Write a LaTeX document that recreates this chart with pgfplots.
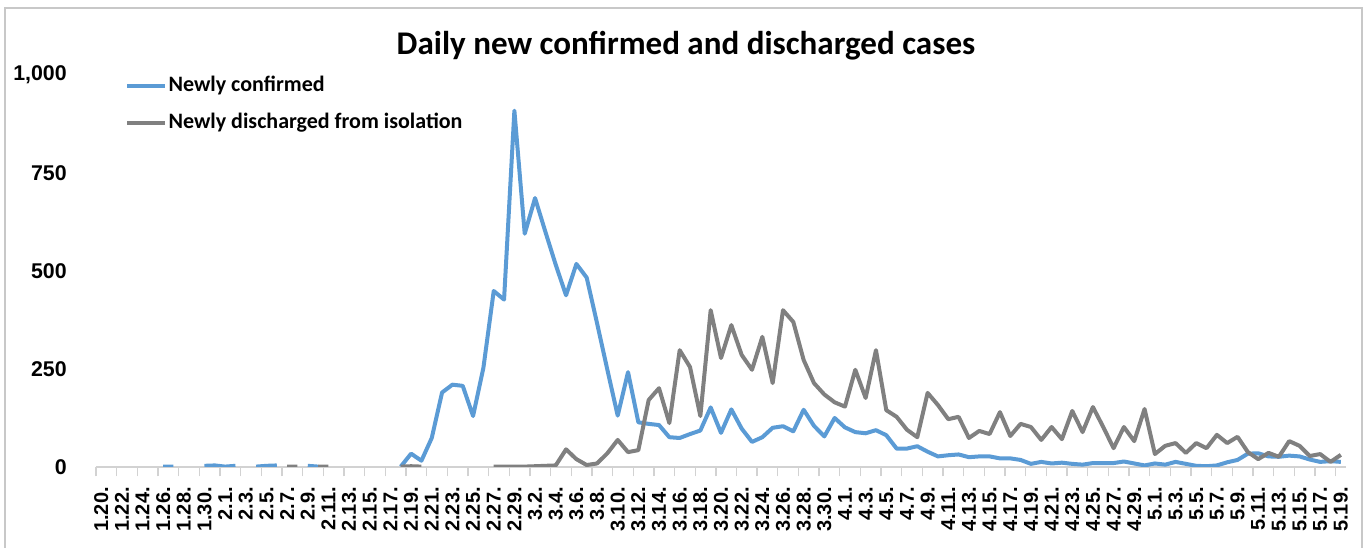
\documentclass[border=0pt]{standalone}
\usepackage{fontspec}
\setmainfont{Carlito}
\newfontfamily\arial{Liberation Sans}
\usepackage{pgfplots}
\usepackage{pgfplotstable}
\pgfplotsset{compat=1.18}

\definecolor{confblue}{RGB}{91,155,213}
\definecolor{disgray}{RGB}{128,128,128}
\definecolor{axisgray}{RGB}{210,210,210}
\definecolor{framegray}{RGB}{200,200,200}

% day index (0 = 1.20), newly confirmed, newly discharged; nan = no value
\pgfplotstableread{
i conf dis
0 1 nan
1 nan nan
2 nan nan
3 nan nan
4 1 nan
5 nan nan
6 1 nan
7 1 nan
8 nan nan
9 nan nan
10 3 nan
11 4 nan
12 1 nan
13 3 nan
14 nan nan
15 1 nan
16 3 nan
17 4 nan
18 nan 1
19 nan 1
20 3 nan
21 1 1
22 nan 1
23 nan nan
24 nan nan
25 nan nan
26 nan nan
27 2 nan
28 nan nan
29 1 1
30 34 2
31 16 1
32 74 nan
33 190 nan
34 210 nan
35 207 nan
36 130 nan
37 253 nan
38 449 1
39 427 1
40 909 1
41 595 1
42 686 2
43 600 3
44 516 4
45 438 45
46 518 20
47 483 5
48 367 9
49 248 35
50 131 69
51 242 38
52 114 43
53 110 171
54 107 201
55 76 112
56 74 298
57 84 255
58 93 130
59 152 400
60 87 278
61 147 362
62 98 286
63 64 248
64 76 332
65 100 214
66 104 400
67 91 370
68 146 273
69 105 214
70 78 185
71 125 165
72 101 154
73 89 248
74 86 176
75 94 298
76 81 145
77 47 128
78 47 95
79 53 76
80 39 189
81 27 158
82 30 122
83 32 128
84 25 74
85 27 92
86 27 84
87 22 140
88 22 79
89 18 110
90 8 102
91 13 69
92 9 102
93 11 71
94 8 143
95 6 89
96 10 153
97 10 102
98 10 48
99 14 102
100 9 66
101 4 148
102 9 33
103 6 54
104 13 61
105 8 36
106 3 61
107 2 48
108 4 82
109 12 61
110 18 77
111 34 38
112 35 20
113 27 36
114 26 26
115 29 66
116 27 54
117 19 28
118 13 33
119 15 13
120 13 31
}\daily

\begin{document}
\begin{tikzpicture}
\path[use as bounding box] (-72pt,-60.75pt) rectangle (954.75pt,350.25pt);
\draw[framegray, line width=1pt] (-68.25pt,-70pt) -- (-68.25pt,344.25pt) -- (949.5pt,344.25pt) -- (949.5pt,-70pt);

\begin{axis}[
    at={(0pt,0pt)}, anchor=south west,
    scale only axis, width=937.5pt, height=294pt,
    xmin=-0.5, xmax=120.5, ymin=0, ymax=1000,
    axis x line*=bottom, axis y line*=left,
    x axis line style={draw=axisgray, line width=1pt},
    y axis line style={draw=none},
    unbounded coords=jump,
    major tick length=0pt,
    minor tick length=7pt,
    tick align=outside,
    minor x tick style={axisgray, line width=1pt},
    ytick={0,250,500,750,1000},
    yticklabels={0,250,500,750,{1,000}},
    yticklabel style={font=\arial\bfseries\fontsize{16}{16}\selectfont, anchor=east, inner sep=0pt, xshift=-21.75pt},
    xtick={0,2,...,120},
    minor xtick={-0.5,1.5,...,119.5},
    xticklabels={1.20.,1.22.,1.24.,1.26.,1.28.,1.30.,
      2.1.,2.3.,2.5.,2.7.,2.9.,2.11.,2.13.,2.15.,2.17.,2.19.,2.21.,2.23.,2.25.,2.27.,2.29.,
      3.2.,3.4.,3.6.,3.8.,3.10.,3.12.,3.14.,3.16.,3.18.,3.20.,3.22.,3.24.,3.26.,3.28.,3.30.,
      4.1.,4.3.,4.5.,4.7.,4.9.,4.11.,4.13.,4.15.,4.17.,4.19.,4.21.,4.23.,4.25.,4.27.,4.29.,
      5.1.,5.3.,5.5.,5.7.,5.9.,5.11.,5.13.,5.15.,5.17.,5.19.},
    xticklabel style={font=\arial\bfseries\fontsize{15}{15}\selectfont, rotate=90, anchor=east, inner sep=0pt, xshift=-15pt},
    legend style={draw=none, fill=none, at={(0.0232,0.925)}, anchor=west, inner sep=0pt,
      row sep=13.75pt,
      nodes={inner sep=0pt, text height=11pt, text depth=3pt, font=\bfseries\fontsize{16.5}{16.5}\selectfont}},
    legend cell align=left,
    legend image code/.code={\draw[#1] (0pt,0pt) -- (28.5pt,0pt);},
    every axis plot/.append style={line width=3pt, line join=round},
]
\addplot[confblue] table[x=i, y=conf] {\daily};
\addlegendentry{\hspace{1pt}Newly confirmed}
\addplot[disgray] table[x=i, y=dis] {\daily};
\addlegendentry{\hspace{1pt}Newly discharged from isolation}
\end{axis}

\node[font=\bfseries\fontsize{24.8}{24.8}\selectfont] at (442.5pt,316pt) {Daily new confirmed and discharged cases};
\end{tikzpicture}
\end{document}
